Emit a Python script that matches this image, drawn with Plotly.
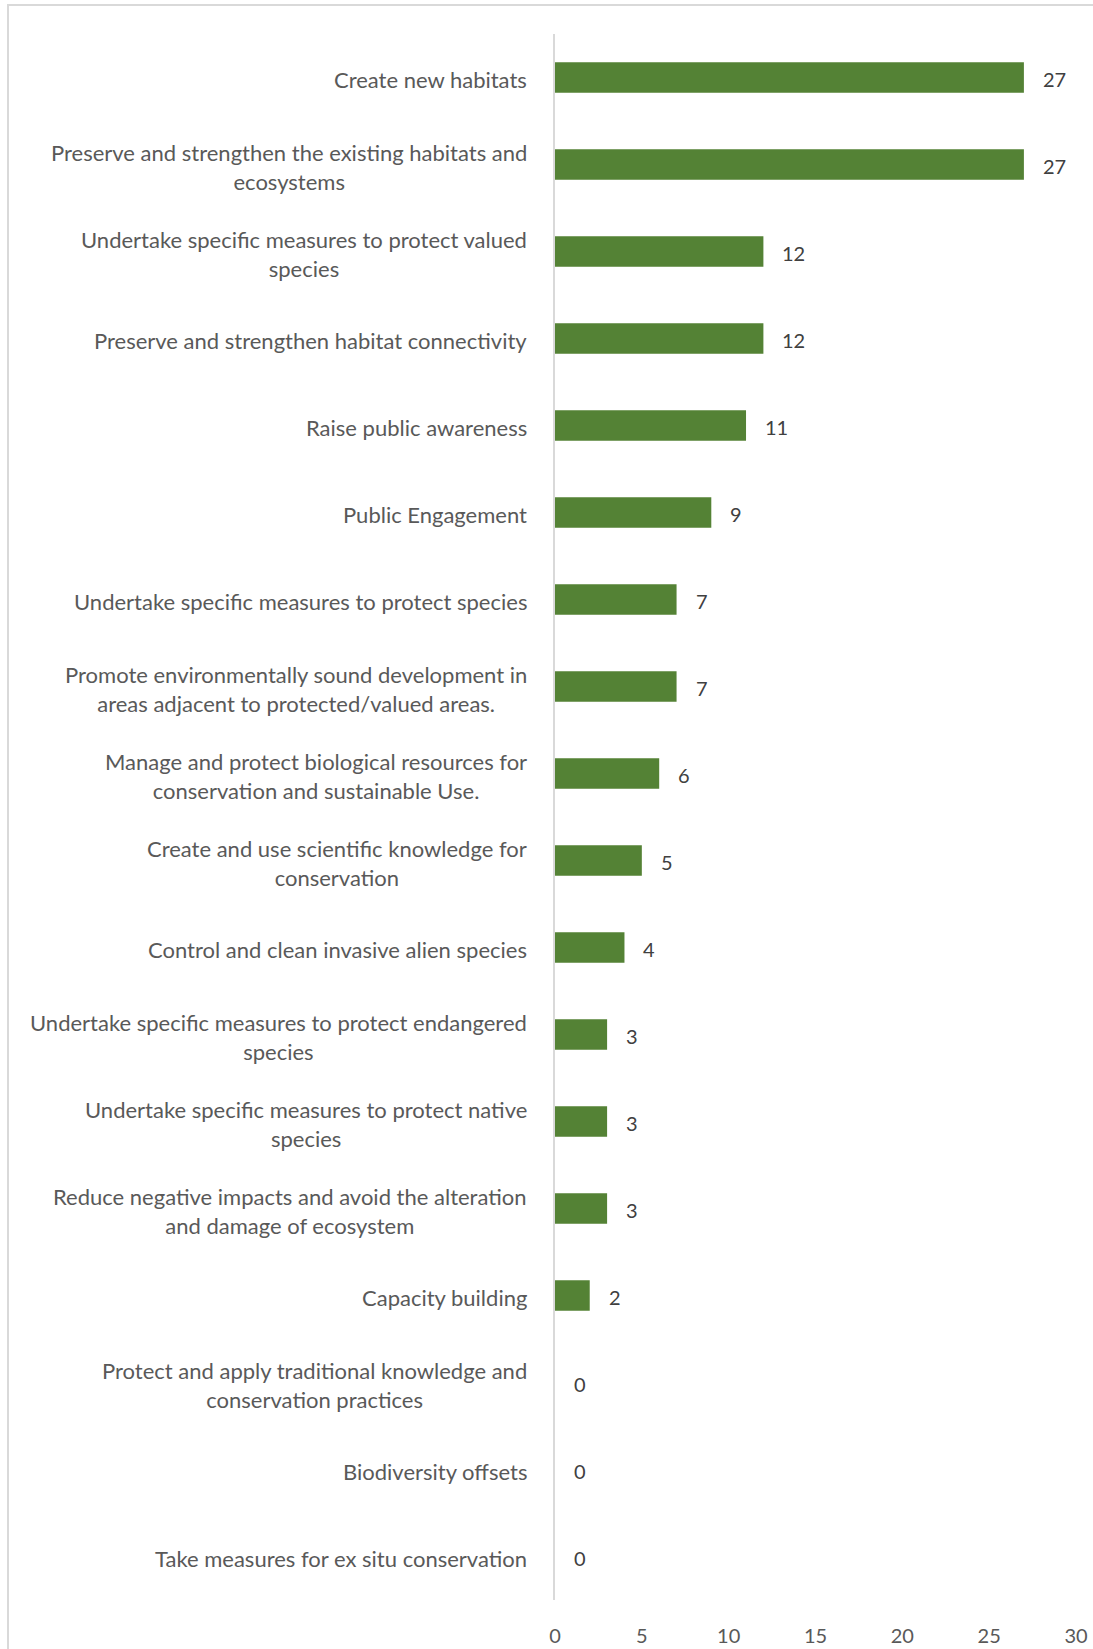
import plotly.graph_objects as go

categories = [
    "Create new habitats",
    "Preserve and strengthen the existing habitats and<br>ecosystems",
    "Undertake specific measures to protect valued<br>species",
    "Preserve and strengthen habitat connectivity",
    "Raise public awareness",
    "Public Engagement",
    "Undertake specific measures to protect species",
    "Promote environmentally sound development in<br>areas adjacent to protected/valued areas.",
    "Manage and protect biological resources for<br>conservation and sustainable Use.",
    "Create and use scientific knowledge for<br>conservation",
    "Control and clean invasive alien species",
    "Undertake specific measures to protect endangered<br>species",
    "Undertake specific measures to protect native<br>species",
    "Reduce negative impacts and avoid the alteration<br>and damage of ecosystem",
    "Capacity building",
    "Protect and apply traditional knowledge and<br>conservation practices",
    "Biodiversity offsets",
    "Take measures for ex situ conservation",
]
values = [27, 27, 12, 12, 11, 9, 7, 7, 6, 5, 4, 3, 3, 3, 2, 0, 0, 0]
x_ticks = [0, 5, 10, 15, 20, 25, 30]

FONT = "Lato"
BAR = "#548235"
GRID = "#d9d9d9"
LABEL = "#595959"
VALUE = "#404040"

fig = go.Figure(go.Bar(
    x=values, y=categories, orientation="h",
    marker=dict(color=BAR, line=dict(width=0)),
    width=0.35, hoverinfo="x+y",
))

anns = []
for c, v in zip(categories, values):
    anns.append(dict(x=v, y=c, xref="x", yref="y", text=str(v), showarrow=False,
                     xanchor="left", xshift=17, yshift=-1,
                     font=dict(family=FONT, size=20, color=VALUE)))
    anns.append(dict(x=0, y=c, xref="paper", yref="y", text=c, showarrow=False,
                     xanchor="right", align="center", xshift=-26, yshift=-2,
                     font=dict(family=FONT, size=22, color=LABEL)))

W, H = 1093, 1649
L, R, T, B = 555, 17, 34, 49
fig.update_layout(
    width=W, height=H,
    margin=dict(l=L, r=R, t=T, b=B, autoexpand=False),
    paper_bgcolor="white", plot_bgcolor="white",
    showlegend=False,
    annotations=anns,
    font=dict(family=FONT, size=20, color=LABEL),
    shapes=[dict(type="rect", xref="paper", yref="paper",
                 x0=(8 - L) / (W - L - R), x1=2, y0=-1,
                 y1=1 + (T - 5) / (H - T - B),
                 line=dict(color=GRID, width=2), layer="below")],
)
fig.update_xaxes(range=[0, 30], tickvals=x_ticks, showgrid=False, zeroline=False,
                 showline=False, ticks="outside", ticklen=0, ticklabelstandoff=18,
                 automargin=False,
                 tickfont=dict(family=FONT, size=20, color=LABEL), fixedrange=True)
fig.update_yaxes(categoryorder="array", categoryarray=categories, autorange="reversed",
                 showticklabels=False, showgrid=False, zeroline=False, automargin=False,
                 showline=True, linecolor=GRID, linewidth=2, ticks="", fixedrange=True)

fig.write_html("out.html")
